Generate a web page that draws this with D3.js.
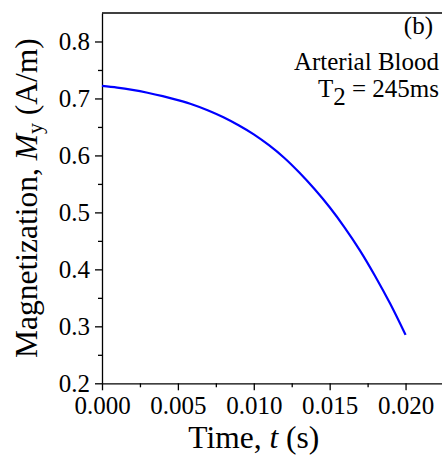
<!DOCTYPE html>
<html>
<head>
<meta charset="utf-8">
<script src="https://cdn.jsdelivr.net/npm/d3@7"></script>
<style>
  html, body { margin: 0; padding: 0; background: #fff; }
  svg { display: block; }
  text { font-family: "Liberation Serif", "Times New Roman", serif; fill: #000; }
</style>
</head>
<body>
<svg id="chart" width="442" height="456"></svg>
<script>
// Transverse magnetization of arterial blood over the first 20 ms
const timeS = [0.000, 0.001, 0.002, 0.003, 0.004, 0.005, 0.006, 0.007, 0.008, 0.009,
               0.010, 0.011, 0.012, 0.013, 0.014, 0.015, 0.016, 0.017, 0.018, 0.019, 0.020];
const magnetY = [0.722, 0.719, 0.715, 0.710, 0.704, 0.697, 0.689, 0.679, 0.667, 0.653,
                 0.637, 0.618, 0.596, 0.570, 0.541, 0.509, 0.473, 0.433, 0.388, 0.339, 0.285];

const xTicks = [0.000, 0.005, 0.010, 0.015, 0.020];
const xMinorTicks = [0.0025, 0.0075, 0.0125, 0.0175, 0.0225];
const yTicks = [0.2, 0.3, 0.4, 0.5, 0.6, 0.7, 0.8];
const yMinorTicks = [0.25, 0.35, 0.45, 0.55, 0.65, 0.75];
const xDomain = [0, 0.0225];
const yDomain = [0.2, 0.85];

const svg = d3.select("#chart");
const W = 442, H = 456;
const plotL = 102, plotT = 13, plotB = 383.3, plotR = 443.5;

const x = d3.scaleLinear().domain(xDomain).range([plotL, plotR]);
const y = d3.scaleLinear().domain(yDomain).range([plotB, plotT]);

// frame: top border line
svg.append("line")
  .attr("x1", plotL).attr("x2", W).attr("y1", plotT).attr("y2", plotT)
  .attr("stroke", "#000").attr("stroke-width", 1.3);

// y axis
svg.append("g").attr("transform", `translate(${plotL},0)`)
  .call(d3.axisLeft(y).tickValues(yTicks).tickFormat(d3.format(".1f"))
        .tickSize(7).tickSizeOuter(0).tickPadding(5));
svg.append("g").attr("transform", `translate(${plotL},0)`)
  .call(d3.axisLeft(y).tickValues(yMinorTicks).tickFormat("").tickSize(4).tickSizeOuter(0))
  .call(g => g.select(".domain").remove());

// x axis
svg.append("g").attr("transform", `translate(0,${plotB})`)
  .call(d3.axisBottom(x).tickValues(xTicks).tickFormat(d3.format(".3f"))
        .tickSize(7).tickSizeOuter(0).tickPadding(6));
svg.append("g").attr("transform", `translate(0,${plotB})`)
  .call(d3.axisBottom(x).tickValues(xMinorTicks).tickFormat("").tickSize(4).tickSizeOuter(0))
  .call(g => g.select(".domain").remove());

svg.selectAll(".domain").attr("stroke", "#000").attr("stroke-width", 1.3);
svg.selectAll(".tick line").attr("stroke", "#000").attr("stroke-width", 1.3);
svg.selectAll(".tick text")
  .attr("font-family", "Liberation Serif, Times New Roman, serif")
  .attr("font-size", 25).attr("fill", "#000");

// curve
const line = d3.line()
  .x((d, i) => x(timeS[i]))
  .y(d => y(d))
  .curve(d3.curveMonotoneX);

svg.append("path")
  .datum(magnetY)
  .attr("d", line)
  .attr("fill", "none")
  .attr("stroke", "#0000ff")
  .attr("stroke-width", 2.2);

// axis titles
const xt = svg.append("text")
  .attr("x", x(0.01)).attr("y", 448)
  .attr("text-anchor", "middle")
  .attr("font-size", 31.5);
xt.append("tspan").text("Time, ");
xt.append("tspan").attr("font-style", "italic").text("t");
xt.append("tspan").text(" (s)");

const yt = svg.append("text")
  .attr("transform", `translate(37,${(plotT + plotB) / 2}) rotate(-90)`)
  .attr("text-anchor", "middle")
  .attr("font-size", 31.5);
yt.append("tspan").text("Magnetization, ");
yt.append("tspan").attr("font-style", "italic").text("M");
yt.append("tspan").attr("font-size", 22).attr("dy", 5).text("y");
yt.append("tspan").attr("dy", -5).text(" (A/m)");

// annotation block
const ax = 439;
svg.append("text").attr("x", 433).attr("y", 34)
  .attr("text-anchor", "end").attr("font-size", 25).text("(b)");
svg.append("text").attr("x", ax).attr("y", 70)
  .attr("text-anchor", "end").attr("font-size", 25).text("Arterial Blood");
const t2 = svg.append("text").attr("x", ax).attr("y", 97)
  .attr("text-anchor", "end").attr("font-size", 25);
t2.append("tspan").text("T");
t2.append("tspan").attr("dy", 8).text("2");
t2.append("tspan").attr("dy", -8).text(" = 245ms");
</script>
</body>
</html>
